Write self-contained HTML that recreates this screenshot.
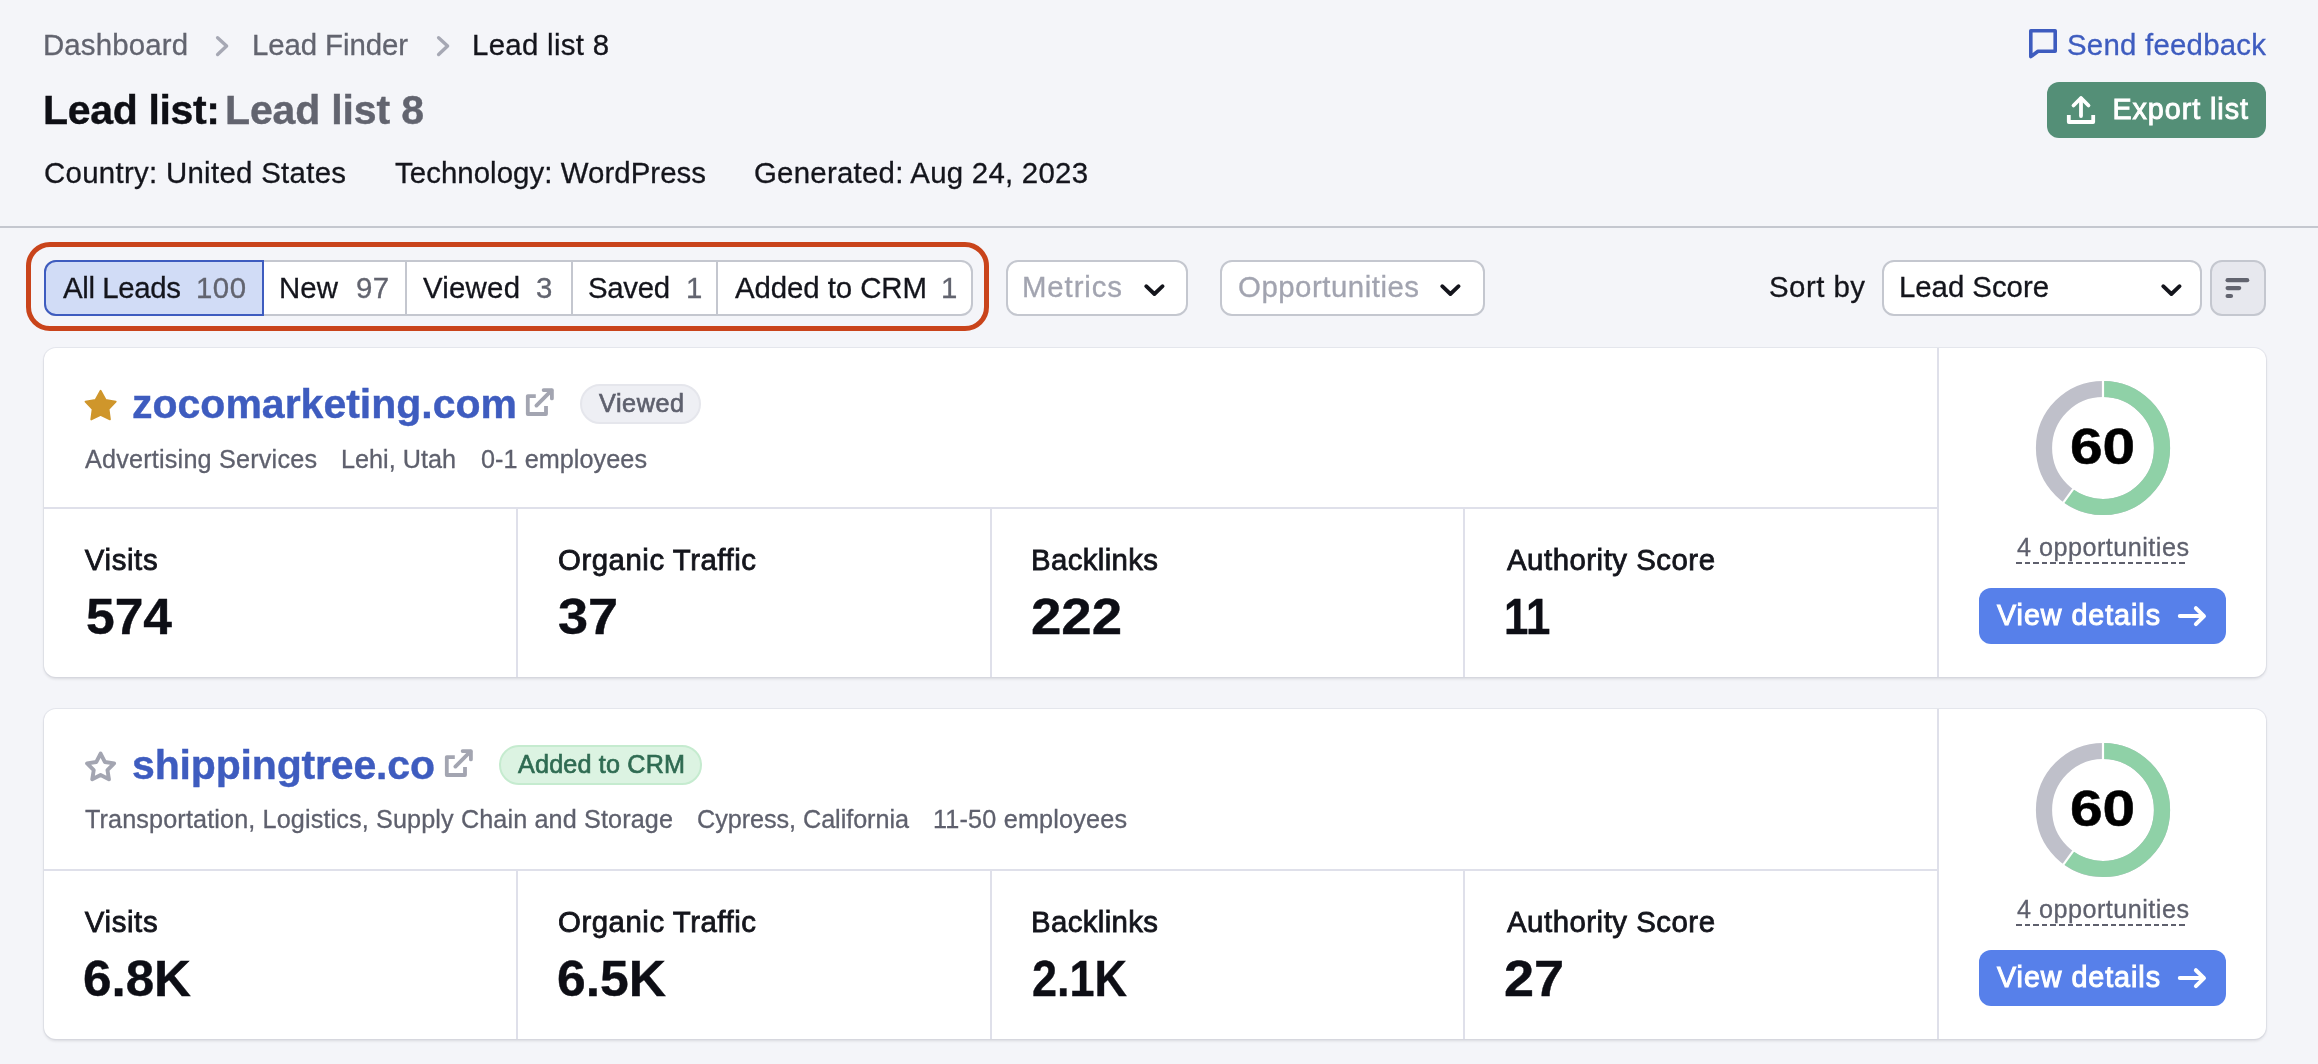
<!DOCTYPE html>
<html lang="en"><head><meta charset="utf-8"><title>Lead list 8</title>
<style>
html,body{margin:0;padding:0;}
body{width:2318px;height:1064px;background:#f4f5f9;position:relative;overflow:hidden;font-family:"Liberation Sans", sans-serif;}
body>div,body>svg,.tx>span{position:absolute;}
.tx{left:0;top:0;width:100%;height:100%;will-change:transform;}
.tx>span{white-space:pre;line-height:1;}
</style></head><body>
<svg style="left:213.7px;top:32px" width="18" height="28" viewBox="0 0 18 28"><path d="M3.6 5.7 L12.6 14 L3.6 22.5" fill="none" stroke="#a6a8b4" stroke-width="3.4" stroke-linecap="round" stroke-linejoin="round"/></svg>
<svg style="left:434.8px;top:32px" width="18" height="28" viewBox="0 0 18 28"><path d="M3.6 5.7 L12.6 14 L3.6 22.5" fill="none" stroke="#a6a8b4" stroke-width="3.4" stroke-linecap="round" stroke-linejoin="round"/></svg>
<svg style="left:2025px;top:25px" width="38" height="40" viewBox="0 0 38 40"><path d="M5.8 5.8 H30.2 V26.2 H13 L5.8 31.6 Z" fill="none" stroke="#3e5cbf" stroke-width="3.6" stroke-linejoin="round"/></svg>
<div style="left:2047px;top:82px;width:219px;height:56px;background:#548f77;border-radius:12px;"></div>
<svg style="left:2062px;top:92px" width="38" height="36" viewBox="0 0 38 36"><g fill="none" stroke="#fff" stroke-width="3.8" stroke-linecap="round" stroke-linejoin="round"><path d="M19 24 V6.5"/><path d="M11.5 13.5 L19 6 L26.5 13.5"/><path d="M6.8 23 V30 H31.2 V23" stroke-linecap="butt"/></g></svg>
<div style="left:0px;top:226px;width:2318px;height:2px;background:#c4c7cf;"></div>
<div style="left:26px;top:242px;width:963px;height:89px;box-sizing:border-box;border:5px solid #c9441b;border-radius:24px;"></div>
<div style="left:44px;top:260px;width:929px;height:56px;box-sizing:border-box;background:#fff;border:2px solid #c4c7cf;border-radius:12px;"></div>
<div style="left:44px;top:260px;width:220px;height:56px;box-sizing:border-box;background:#d1dcf6;border:2px solid #3e5cbf;border-radius:12px 0 0 12px;"></div>
<div style="left:405px;top:262px;width:2px;height:52px;background:#c4c7cf;"></div>
<div style="left:571px;top:262px;width:2px;height:52px;background:#c4c7cf;"></div>
<div style="left:716px;top:262px;width:2px;height:52px;background:#c4c7cf;"></div>
<div style="left:1006px;top:260px;width:182px;height:56px;box-sizing:border-box;background:#fff;border:2px solid #c4c7cf;border-radius:12px;"></div>
<svg style="left:1140.75px;top:279.75px" width="28" height="22" viewBox="0 0 28 22"><path d="M5.2 6.2 L13.4 14 L21.6 6.2" fill="none" stroke="#14151c" stroke-width="3.8" stroke-linecap="round" stroke-linejoin="round"/></svg>
<div style="left:1220px;top:260px;width:265px;height:56px;box-sizing:border-box;background:#fff;border:2px solid #c4c7cf;border-radius:12px;"></div>
<svg style="left:1437px;top:279.75px" width="28" height="22" viewBox="0 0 28 22"><path d="M5.2 6.2 L13.4 14 L21.6 6.2" fill="none" stroke="#14151c" stroke-width="3.8" stroke-linecap="round" stroke-linejoin="round"/></svg>
<div style="left:1882px;top:260px;width:320px;height:56px;box-sizing:border-box;background:#fff;border:2px solid #c4c7cf;border-radius:12px;"></div>
<svg style="left:2158px;top:279.75px" width="28" height="22" viewBox="0 0 28 22"><path d="M5.2 6.2 L13.4 14 L21.6 6.2" fill="none" stroke="#14151c" stroke-width="3.8" stroke-linecap="round" stroke-linejoin="round"/></svg>
<div style="left:2210px;top:260px;width:56px;height:56px;box-sizing:border-box;background:#e7e8ee;border:2px solid #c4c7cf;border-radius:12px;"></div>
<svg style="left:2222px;top:274px" width="32" height="28" viewBox="0 0 32 28"><g stroke="#62646f" stroke-width="4.2" stroke-linecap="round"><path d="M5.6 6.2 H25.2"/><path d="M5.6 14.1 H17.2"/><path d="M5.6 22 H9"/></g></svg>
<div style="left:44px;top:348px;width:2222px;height:329px;background:#fff;border-radius:12px;box-shadow:0 0 0 1px rgba(200,202,215,.35),0 2px 3px rgba(25,27,35,.12);"></div>
<div style="left:44px;top:507px;width:1894px;height:2px;background:#dfe0ea;"></div>
<div style="left:1937px;top:348px;width:2px;height:329px;background:#dfe0ea;"></div>
<div style="left:516px;top:509px;width:2px;height:168px;background:#dfe0ea;"></div>
<div style="left:989.5px;top:509px;width:2px;height:168px;background:#dfe0ea;"></div>
<div style="left:1463px;top:509px;width:2px;height:168px;background:#dfe0ea;"></div>
<svg style="left:80px;top:386px" width="42" height="42" viewBox="0 0 42 42"><polygon points="20.60,4.70 25.54,13.80 35.72,15.69 28.59,23.20 29.95,33.46 20.60,29.00 11.25,33.46 12.61,23.20 5.48,15.69 15.66,13.80" fill="#cf962b" stroke="#cf962b" stroke-width="1.8" stroke-linejoin="round"/></svg>
<svg style="left:520.0px;top:384px" width="40" height="36" viewBox="0 0 40 36"><g fill="none" stroke="#a3a5b1" stroke-width="3.8" stroke-linejoin="round"><path d="M15.8 12.1 H7.8 V30 H26 V22"/><path d="M16.4 21.6 L31.3 6.7" stroke-linecap="round"/><path d="M23.6 6.1 H31.9 V14.4" stroke-linecap="round"/></g></svg>
<div style="left:580px;top:384px;width:120.5px;height:40px;box-sizing:border-box;border-radius:20px;background:#eeeff4;border:2px solid #e5e6ec;"></div>
<svg style="left:2027.6px;top:372.6px" width="150" height="150" viewBox="0 0 150 150"><circle cx="75" cy="75" r="59" fill="none" stroke="#bfc0ca" stroke-width="16.2"/><circle cx="75" cy="75" r="59" fill="none" stroke="#8fd1a7" stroke-width="16.2" stroke-dasharray="222.42 370.71" transform="rotate(-90 75 75)"/><path d="M75 6.9 V25.1" stroke="#fff" stroke-width="2.2"/><path d="M75 6.9 V25.1" stroke="#fff" stroke-width="2.2" transform="rotate(216 75 75)"/></svg>
<div style="left:2016px;top:561.5px;width:172px;height:2px;background:repeating-linear-gradient(90deg,#5e606d 0 5.6px,transparent 5.6px 8.6px);"></div>
<div style="left:1979px;top:588px;width:247px;height:56px;background:#5780ea;border-radius:12px;"></div>
<svg style="left:2172px;top:602px" width="40" height="28" viewBox="0 0 40 28"><g fill="none" stroke="#fff" stroke-width="4" stroke-linecap="round" stroke-linejoin="round"><path d="M7.8 14.1 H31"/><path d="M23.9 6.2 L32 14.1 L23.9 22.2"/></g></svg>
<div style="left:44px;top:709px;width:2222px;height:330px;background:#fff;border-radius:12px;box-shadow:0 0 0 1px rgba(200,202,215,.35),0 2px 3px rgba(25,27,35,.12);"></div>
<div style="left:44px;top:869px;width:1894px;height:2px;background:#dfe0ea;"></div>
<div style="left:1937px;top:709px;width:2px;height:330px;background:#dfe0ea;"></div>
<div style="left:516px;top:871px;width:2px;height:168px;background:#dfe0ea;"></div>
<div style="left:989.5px;top:871px;width:2px;height:168px;background:#dfe0ea;"></div>
<div style="left:1463px;top:871px;width:2px;height:168px;background:#dfe0ea;"></div>
<svg style="left:80px;top:747px" width="42" height="42" viewBox="0 0 42 42"><polygon points="20.60,6.60 24.83,14.98 34.11,16.41 27.45,23.02 28.95,32.29 20.60,28.00 12.25,32.29 13.75,23.02 7.09,16.41 16.37,14.98" fill="none" stroke="#a3a5b1" stroke-width="3.9" stroke-linejoin="round"/></svg>
<svg style="left:439.0px;top:745px" width="40" height="36" viewBox="0 0 40 36"><g fill="none" stroke="#a3a5b1" stroke-width="3.8" stroke-linejoin="round"><path d="M15.8 12.1 H7.8 V30 H26 V22"/><path d="M16.4 21.6 L31.3 6.7" stroke-linecap="round"/><path d="M23.6 6.1 H31.9 V14.4" stroke-linecap="round"/></g></svg>
<div style="left:499px;top:745px;width:203px;height:40px;box-sizing:border-box;border-radius:20px;background:#dcf3e2;border:2px solid #c5ebcf;"></div>
<svg style="left:2027.6px;top:734.6px" width="150" height="150" viewBox="0 0 150 150"><circle cx="75" cy="75" r="59" fill="none" stroke="#bfc0ca" stroke-width="16.2"/><circle cx="75" cy="75" r="59" fill="none" stroke="#8fd1a7" stroke-width="16.2" stroke-dasharray="222.42 370.71" transform="rotate(-90 75 75)"/><path d="M75 6.9 V25.1" stroke="#fff" stroke-width="2.2"/><path d="M75 6.9 V25.1" stroke="#fff" stroke-width="2.2" transform="rotate(216 75 75)"/></svg>
<div style="left:2016px;top:923.5px;width:172px;height:2px;background:repeating-linear-gradient(90deg,#5e606d 0 5.6px,transparent 5.6px 8.6px);"></div>
<div style="left:1979px;top:950px;width:247px;height:56px;background:#5780ea;border-radius:12px;"></div>
<svg style="left:2172px;top:964px" width="40" height="28" viewBox="0 0 40 28"><g fill="none" stroke="#fff" stroke-width="4" stroke-linecap="round" stroke-linejoin="round"><path d="M7.8 14.1 H31"/><path d="M23.9 6.2 L32 14.1 L23.9 22.2"/></g></svg>
<div class="tx">
<span style="left:43.00px;top:30.00px;font-size:29.4px;color:#62646f;-webkit-text-stroke:0.3px #62646f;letter-spacing:0.150px;">Dashboard</span>
<span style="left:252.00px;top:30.00px;font-size:29.4px;color:#62646f;-webkit-text-stroke:0.3px #62646f;letter-spacing:-0.086px;">Lead Finder</span>
<span style="left:472.00px;top:30.00px;font-size:29.4px;color:#14151c;-webkit-text-stroke:0.3px #14151c;letter-spacing:0.302px;">Lead list 8</span>
<span style="left:43.00px;top:90.00px;font-size:41px;font-weight:700;color:#0e0f15;-webkit-text-stroke:0.4px #0e0f15;letter-spacing:-0.332px;">Lead list:</span>
<span style="left:225.00px;top:90.00px;font-size:41px;font-weight:700;color:#62646f;-webkit-text-stroke:0.4px #62646f;letter-spacing:-0.152px;">Lead list 8</span>
<span style="left:44.00px;top:158.00px;font-size:29.4px;color:#14151c;-webkit-text-stroke:0.3px #14151c;letter-spacing:0.301px;">Country: United States</span>
<span style="left:395.00px;top:158.00px;font-size:29.4px;color:#14151c;-webkit-text-stroke:0.3px #14151c;letter-spacing:0.058px;">Technology: WordPress</span>
<span style="left:754.00px;top:158.00px;font-size:29.4px;color:#14151c;-webkit-text-stroke:0.3px #14151c;letter-spacing:0.251px;">Generated: Aug 24, 2023</span>
<span style="left:2067.00px;top:30.00px;font-size:29.4px;color:#3e5cbf;-webkit-text-stroke:0.3px #3e5cbf;letter-spacing:0.242px;">Send feedback</span>
<span style="left:2112.40px;top:95.00px;font-size:28.7px;color:#ffffff;-webkit-text-stroke:0.9px #ffffff;letter-spacing:0.965px;">Export list</span>
<span style="left:63.00px;top:273.00px;font-size:29.4px;color:#14151c;-webkit-text-stroke:0.3px #14151c;letter-spacing:-0.365px;">All Leads</span>
<span style="left:196.00px;top:273.00px;font-size:29.4px;color:#62646f;-webkit-text-stroke:0.3px #62646f;letter-spacing:0.477px;">100</span>
<span style="left:279.00px;top:273.00px;font-size:29.4px;color:#14151c;-webkit-text-stroke:0.3px #14151c;letter-spacing:0.102px;">New</span>
<span style="left:356.00px;top:273.00px;font-size:29.4px;color:#62646f;-webkit-text-stroke:0.3px #62646f;letter-spacing:0.297px;">97</span>
<span style="left:423.00px;top:273.00px;font-size:29.4px;color:#14151c;-webkit-text-stroke:0.3px #14151c;letter-spacing:0.225px;">Viewed</span>
<span style="left:536.00px;top:273.00px;font-size:29.4px;color:#62646f;-webkit-text-stroke:0.3px #62646f;letter-spacing:0.000px;">3</span>
<span style="left:588.00px;top:273.00px;font-size:29.4px;color:#14151c;-webkit-text-stroke:0.3px #14151c;letter-spacing:-0.336px;">Saved</span>
<span style="left:686.00px;top:273.00px;font-size:29.4px;color:#62646f;-webkit-text-stroke:0.3px #62646f;letter-spacing:0.000px;">1</span>
<span style="left:735.00px;top:273.00px;font-size:29.4px;color:#14151c;-webkit-text-stroke:0.3px #14151c;letter-spacing:-0.070px;">Added to CRM</span>
<span style="left:941.00px;top:273.00px;font-size:29.4px;color:#62646f;-webkit-text-stroke:0.3px #62646f;letter-spacing:0.000px;">1</span>
<span style="left:1022.00px;top:272.00px;font-size:29.4px;color:#a2a4b0;-webkit-text-stroke:0.3px #a2a4b0;letter-spacing:0.883px;">Metrics</span>
<span style="left:1238.00px;top:272.00px;font-size:29.4px;color:#a2a4b0;-webkit-text-stroke:0.3px #a2a4b0;letter-spacing:0.516px;">Opportunities</span>
<span style="left:1769.00px;top:272.00px;font-size:29.4px;color:#14151c;-webkit-text-stroke:0.3px #14151c;letter-spacing:0.482px;">Sort by</span>
<span style="left:1899.00px;top:272.00px;font-size:29.4px;color:#14151c;-webkit-text-stroke:0.3px #14151c;letter-spacing:-0.036px;">Lead Score</span>
<span style="left:132.00px;top:384.00px;font-size:41px;font-weight:700;color:#3e5cbf;-webkit-text-stroke:0.4px #3e5cbf;letter-spacing:-0.003px;">zocomarketing.com</span>
<span style="left:599.00px;top:391.00px;font-size:25.2px;color:#5e606d;-webkit-text-stroke:0.65px #5e606d;letter-spacing:0.569px;">Viewed</span>
<span style="left:85.00px;top:447.00px;font-size:25.2px;color:#5e606d;-webkit-text-stroke:0.3px #5e606d;letter-spacing:0.201px;">Advertising Services</span>
<span style="left:341.00px;top:447.00px;font-size:25.2px;color:#5e606d;-webkit-text-stroke:0.3px #5e606d;letter-spacing:0.019px;">Lehi, Utah</span>
<span style="left:481.00px;top:447.00px;font-size:25.2px;color:#5e606d;-webkit-text-stroke:0.3px #5e606d;letter-spacing:0.065px;">0-1 employees</span>
<span style="left:84.80px;top:545.00px;font-size:29.4px;color:#14151c;-webkit-text-stroke:0.8px #14151c;letter-spacing:0.619px;">Visits</span>
<span style="left:86.00px;top:592.00px;font-size:50.4px;font-weight:700;color:#0d0e15;-webkit-text-stroke:0.4px #0d0e15;transform-origin:0 0;transform:scaleX(1.0231);">574</span>
<span style="left:558.00px;top:545.00px;font-size:29.4px;color:#14151c;-webkit-text-stroke:0.8px #14151c;letter-spacing:0.530px;">Organic Traffic</span>
<span style="left:558.00px;top:592.00px;font-size:50.4px;font-weight:700;color:#0d0e15;-webkit-text-stroke:0.4px #0d0e15;transform-origin:0 0;transform:scaleX(1.0733);">37</span>
<span style="left:1031.00px;top:545.00px;font-size:29.4px;color:#14151c;-webkit-text-stroke:0.8px #14151c;letter-spacing:0.357px;">Backlinks</span>
<span style="left:1031.00px;top:592.00px;font-size:50.4px;font-weight:700;color:#0d0e15;-webkit-text-stroke:0.4px #0d0e15;transform-origin:0 0;transform:scaleX(1.0838);">222</span>
<span style="left:1507.00px;top:545.00px;font-size:29.4px;color:#14151c;-webkit-text-stroke:0.8px #14151c;letter-spacing:0.504px;">Authority Score</span>
<span style="left:1504.00px;top:592.00px;font-size:50.4px;font-weight:700;color:#0d0e15;-webkit-text-stroke:0.4px #0d0e15;transform-origin:0 0;transform:scaleX(0.8677);">11</span>
<span style="left:2070.00px;top:422.00px;font-size:50.4px;font-weight:700;color:#000;-webkit-text-stroke:0.5px #000;transform-origin:0 0;transform:scaleX(1.1633);">60</span>
<span style="left:2017.00px;top:535.00px;font-size:25.2px;color:#5e606d;-webkit-text-stroke:0.3px #5e606d;letter-spacing:0.483px;">4 opportunities</span>
<span style="left:1997.00px;top:601.00px;font-size:28.7px;color:#fff;-webkit-text-stroke:1.0px #fff;letter-spacing:0.949px;">View details</span>
<span style="left:132.00px;top:745.00px;font-size:41px;font-weight:700;color:#3e5cbf;-webkit-text-stroke:0.4px #3e5cbf;letter-spacing:-0.162px;">shippingtree.co</span>
<span style="left:518.00px;top:752.00px;font-size:25.2px;color:#2f6b52;-webkit-text-stroke:0.65px #2f6b52;letter-spacing:0.163px;">Added to CRM</span>
<span style="left:85.00px;top:807.00px;font-size:25.2px;color:#5e606d;-webkit-text-stroke:0.3px #5e606d;letter-spacing:0.130px;">Transportation, Logistics, Supply Chain and Storage</span>
<span style="left:697.00px;top:807.00px;font-size:25.2px;color:#5e606d;-webkit-text-stroke:0.3px #5e606d;letter-spacing:-0.043px;">Cypress, California</span>
<span style="left:933.00px;top:807.00px;font-size:25.2px;color:#5e606d;-webkit-text-stroke:0.3px #5e606d;letter-spacing:0.189px;">11-50 employees</span>
<span style="left:84.80px;top:907.00px;font-size:29.4px;color:#14151c;-webkit-text-stroke:0.8px #14151c;letter-spacing:0.619px;">Visits</span>
<span style="left:83.00px;top:954.00px;font-size:50.4px;font-weight:700;color:#0d0e15;-webkit-text-stroke:0.4px #0d0e15;transform-origin:0 0;transform:scaleX(1.0151);">6.8K</span>
<span style="left:558.00px;top:907.00px;font-size:29.4px;color:#14151c;-webkit-text-stroke:0.8px #14151c;letter-spacing:0.530px;">Organic Traffic</span>
<span style="left:557.00px;top:954.00px;font-size:50.4px;font-weight:700;color:#0d0e15;-webkit-text-stroke:0.4px #0d0e15;transform-origin:0 0;transform:scaleX(1.0245);">6.5K</span>
<span style="left:1031.00px;top:907.00px;font-size:29.4px;color:#14151c;-webkit-text-stroke:0.8px #14151c;letter-spacing:0.357px;">Backlinks</span>
<span style="left:1032.00px;top:954.00px;font-size:50.4px;font-weight:700;color:#0d0e15;-webkit-text-stroke:0.4px #0d0e15;transform-origin:0 0;transform:scaleX(0.8927);">2.1K</span>
<span style="left:1507.00px;top:907.00px;font-size:29.4px;color:#14151c;-webkit-text-stroke:0.8px #14151c;letter-spacing:0.504px;">Authority Score</span>
<span style="left:1504.00px;top:954.00px;font-size:50.4px;font-weight:700;color:#0d0e15;-webkit-text-stroke:0.4px #0d0e15;transform-origin:0 0;transform:scaleX(1.0737);">27</span>
<span style="left:2070.00px;top:784.00px;font-size:50.4px;font-weight:700;color:#000;-webkit-text-stroke:0.5px #000;transform-origin:0 0;transform:scaleX(1.1633);">60</span>
<span style="left:2017.00px;top:897.00px;font-size:25.2px;color:#5e606d;-webkit-text-stroke:0.3px #5e606d;letter-spacing:0.483px;">4 opportunities</span>
<span style="left:1997.00px;top:963.00px;font-size:28.7px;color:#fff;-webkit-text-stroke:1.0px #fff;letter-spacing:0.949px;">View details</span>
</div>
</body></html>
